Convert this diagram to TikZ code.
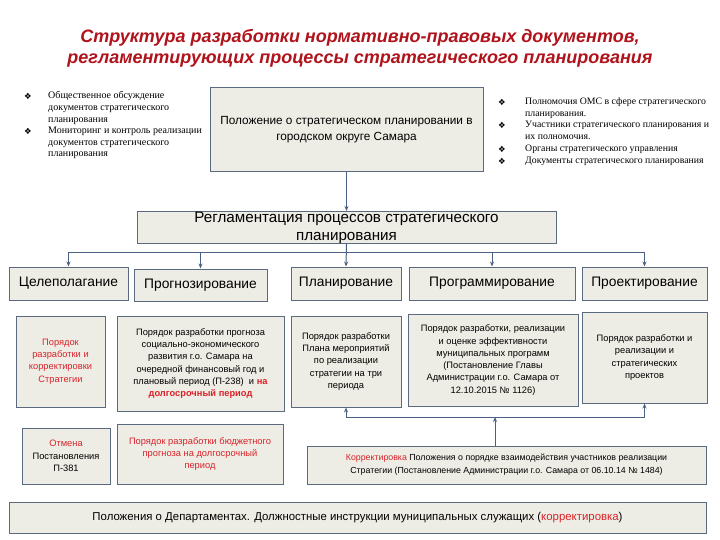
\documentclass[tikz,border=0pt]{standalone}
\usepackage{fontspec}
\setmainfont{Liberation Sans}
\newfontfamily\serifb{Liberation Serif}
\newfontfamily\symb{DejaVu Sans}
\usepackage{tikz}
\usetikzlibrary{arrows.meta, calc, positioning}
\definecolor{BoxFill}{HTML}{EEEDE5}
\definecolor{BoxLine}{HTML}{5A6A80}
\definecolor{Conn}{HTML}{4A6184}
\definecolor{TxtRed}{HTML}{DA2128}
\definecolor{TitleRed}{HTML}{B0131B}
\tikzset{
  box/.style={draw=BoxLine, fill=BoxFill, line width=1pt, align=center, inner sep=1pt},
  head/.style={box, font=\fontsize{13.8}{16}\selectfont},
  doc/.style={box, font=\fontsize{9.3}{12.3}\selectfont},
  conn/.style={draw=Conn, line width=1pt},
  arr/.style={conn, -{Stealth[length=5pt, width=4pt]}},
  bul/.style={inner sep=0pt, font=\symb\fontsize{8.5}{9}\selectfont},
  itm/.style={inner sep=0pt, align=left, anchor=north west, font=\serifb\fontsize{10}{11.8}\selectfont},
}

\begin{document}
\begin{tikzpicture}[x=1pt, y=-1pt]
  \useasboundingbox[fill=white] (0,0) rectangle (720,540);
  \node[align=center, text=TitleRed, font=\fontsize{18}{21}\selectfont\bfseries\itshape] (title) at (360,48.5)
    {Структура разработки нормативно-правовых документов,\\ регламентирующих процессы стратегического планирования};

  \node[bul] (lb1) at (28,96) {❖};
  \node[itm] (li1) at (48,91.5) {Общественное обсуждение\\ документов стратегического\\ планирования};
  \node[bul] (lb2) at (28,131) {❖};
  \node[itm] (li2) at (48,126.5) {Мониторинг и контроль реализации\\ документов стратегического\\ планирования};

  \node[bul] (rb1) at (502,102) {❖};
  \node[itm, font=\serifb\fontsize{9.8}{11.8}\selectfont] (ri1) at (525,97.5) {Полномочия ОМС в сфере стратегического\\ планирования.};
  \node[bul] (rb2) at (502,125.5) {❖};
  \node[itm, font=\serifb\fontsize{9.8}{11.8}\selectfont] (ri2) at (525,121) {Участники стратегического планирования и\\ их полномочия.};
  \node[bul] (rb3) at (502,149) {❖};
  \node[itm, font=\serifb\fontsize{9.8}{11.8}\selectfont] (ri3) at (525,144.5) {Органы стратегического управления};
  \node[bul] (rb4) at (502,161) {❖};
  \node[itm, font=\serifb\fontsize{9.8}{11.8}\selectfont] (ri4) at (525,156.5) {Документы стратегического планирования};

  \node[box, minimum width=273pt, minimum height=84pt, font=\fontsize{11.8}{16}\selectfont] (top) at (346.5,130)
    {Положение о стратегическом планировании в\\ городском округе Самара};
  \node[box, minimum width=419pt, minimum height=32pt, inner sep=0pt, font=\fontsize{15.2}{18}\selectfont] (reg) at (346.5,227.5)
    {Регламентация процессов стратегического\\ планирования};
  \draw[arr] (top.south) -- (reg.north);

  \node[head, minimum width=119pt, minimum height=33pt] (goal) at (68.5,283.5) {Целеполагание};
  \node[head, minimum width=133pt, minimum height=32pt] (fore) at (200.5,285) {Прогнозирование};
  \node[head, minimum width=110pt, minimum height=33pt] (plan) at (346,283.5) {Планирование};
  \node[head, minimum width=166pt, minimum height=33pt] (progr) at (492,283.5) {Программирование};
  \node[head, minimum width=125pt, minimum height=33pt] (proj) at (644.5,283.5) {Проектирование};

  \coordinate (bus) at (346,252);
  \draw[conn] (goal.north |- bus) -- (proj.north |- bus);
  \draw[arr] (reg.south) -- (plan.north);
  \foreach \n in {goal, fore, progr, proj}
    \draw[arr] (\n.north |- bus) -- (\n.north);

  \node[doc, minimum width=89pt, minimum height=91pt, text=TxtRed] (strat) at (60.5,361.5)
    {Порядок\\ разработки и\\ корректировки\\ Стратегии};
  \node[doc, minimum width=167pt, minimum height=95pt] (fcast) at (200.5,363.5)
    {Порядок разработки прогноза\\ социально-экономического\\ развития г.о. Самара на\\ очередной финансовый год и\\
     плановый период (П-238) ~и \textcolor{TxtRed}{\bfseries на}\\ \textcolor{TxtRed}{\bfseries долгосрочный период}};
  \node[doc, minimum width=110pt, minimum height=91pt] (plandoc) at (346,361.5)
    {Порядок разработки\\ Плана мероприятий\\ по реализации\\ стратегии на три\\ периода};
  \node[doc, minimum width=170pt, minimum height=92pt] (progdoc) at (493,360)
    {Порядок разработки, реализации\\ и оценке эффективности\\ муниципальных программ\\ (Постановление Главы\\
     Администрации г.о. Самара от\\ 12.10.2015 № 1126)};
  \node[doc, minimum width=125pt, minimum height=91pt] (projdoc) at (644.5,357.5)
    {Порядок разработки и\\ реализации и\\ стратегических\\ проектов};

  \node[doc, minimum width=88pt, minimum height=56pt] (cancel) at (66,456)
    {\textcolor{TxtRed}{Отмена}\\ Постановления\\ П-381};
  \node[doc, minimum width=166pt, minimum height=60pt, text=TxtRed] (budget) at (200,454)
    {Порядок разработки бюджетного\\ прогноза на долгосрочный\\ период};
  \node[doc, minimum width=399pt, minimum height=38pt, font=\fontsize{8.8}{13}\selectfont] (korr) at (506.5,465)
    {\textcolor{TxtRed}{Корректировка} Положения о порядке взаимодействия участников реализации\\
     Стратегии (Постановление Администрации г.о. Самара от 06.10.14 № 1484)};

  \coordinate (bus2) at (495,417);
  \draw[arr] (bus2 |- korr.north) -- (bus2);
  \draw[arr] (bus2) -| (plandoc.south);
  \draw[arr] (bus2) -| (projdoc.south);

  \node[box, minimum width=697pt, minimum height=31pt, font=\fontsize{11.4}{14}\selectfont] (depts) at (357.5,517.5)
    {Положения о Департаментах. Должностные инструкции муниципальных служащих (\textcolor{TxtRed}{корректировка})};
\end{tikzpicture}
\end{document}
